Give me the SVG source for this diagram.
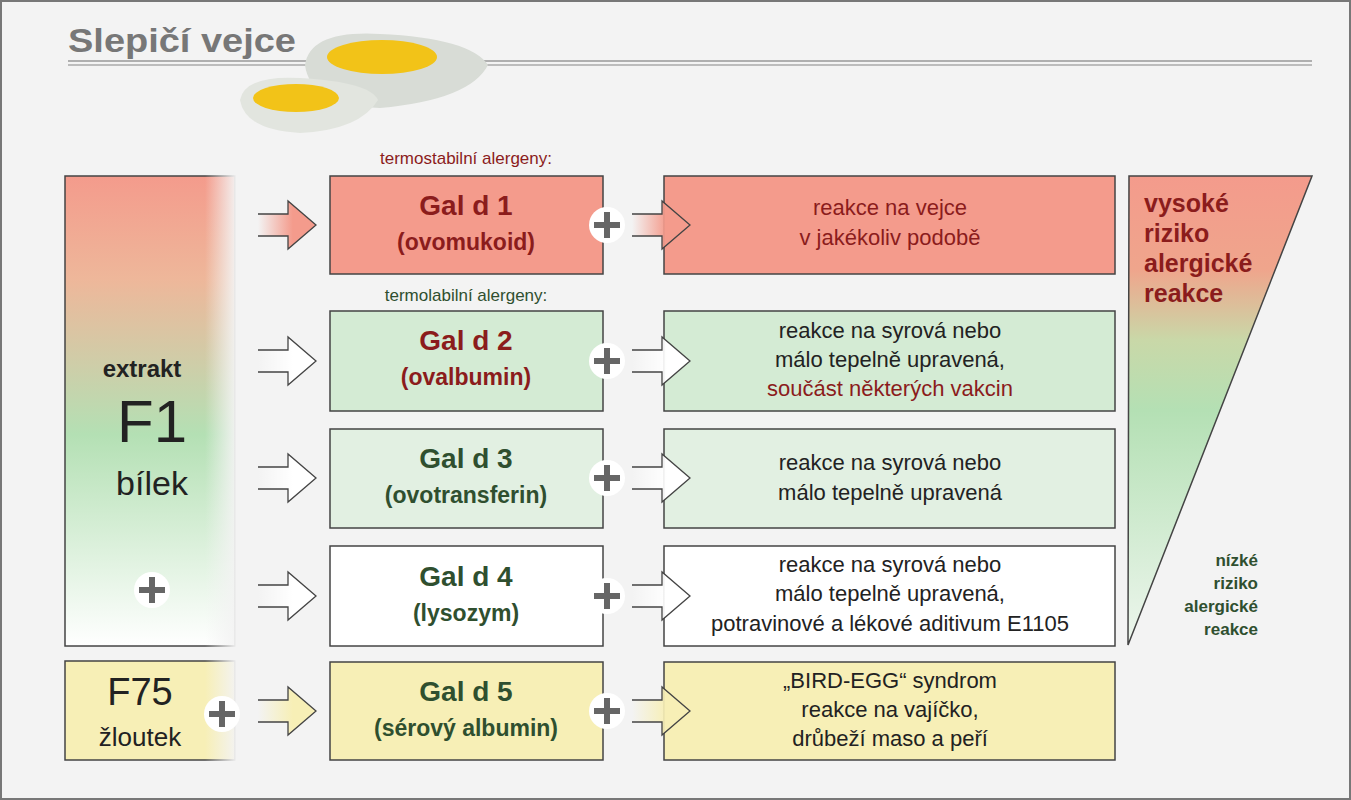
<svg xmlns="http://www.w3.org/2000/svg" width="1351" height="800" viewBox="0 0 1351 800">
<defs>
<linearGradient id="lg" x1="0" y1="0" x2="0" y2="1">
<stop offset="0" stop-color="#f49b8c"/><stop offset="0.22" stop-color="#eeb79a"/><stop offset="0.55" stop-color="#b4e0b4"/><stop offset="1" stop-color="#ffffff"/>
</linearGradient>
<linearGradient id="fadeR" x1="0" y1="0" x2="1" y2="0">
<stop offset="0" stop-color="#f3f3f3" stop-opacity="0"/><stop offset="1" stop-color="#f3f3f3"/>
</linearGradient>
<linearGradient id="tri" x1="0" y1="0" x2="0" y2="1">
<stop offset="0" stop-color="#f49b8c"/><stop offset="0.2" stop-color="#efa58c"/><stop offset="0.35" stop-color="#c9d8a8"/><stop offset="0.5" stop-color="#b4e0b4"/><stop offset="1" stop-color="#eef6ee"/>
</linearGradient>
<linearGradient id="ar" x1="0" y1="0" x2="1" y2="0">
<stop offset="0" stop-color="#f49b8c" stop-opacity="0"/><stop offset="0.6" stop-color="#f49b8c"/>
</linearGradient>
<linearGradient id="aw" x1="0" y1="0" x2="1" y2="0">
<stop offset="0" stop-color="#ffffff" stop-opacity="0"/><stop offset="0.6" stop-color="#ffffff"/>
</linearGradient>
<linearGradient id="ay" x1="0" y1="0" x2="1" y2="0">
<stop offset="0" stop-color="#f7efb6" stop-opacity="0"/><stop offset="0.6" stop-color="#f7efb6"/>
</linearGradient>
<path id="arrow" d="M0,-11 H30 V-24 L58,0 L30,24 V11 H0"/>
</defs>
<style>
.box{stroke:#444;stroke-width:1.5}
.t{font-family:"Liberation Sans",Arial,sans-serif;text-anchor:middle}
.f{font-family:"Liberation Sans",Arial,sans-serif}
.b{font-weight:bold}
.r{fill:#8b1c1c}.g{fill:#2f4f2f}.k{fill:#222}
.as{stroke:#444;stroke-width:1.3}
.plus{fill:#fff}
.pl{stroke:#666;stroke-width:6}
</style>
<rect width="1351" height="800" fill="#f3f3f3"/>
<rect x="1" y="1" width="1349" height="798" fill="none" stroke="#777" stroke-width="2"/>
<g id="title">
<text x="68" y="52" class="f b" font-size="34" fill="#777" textLength="228" lengthAdjust="spacingAndGlyphs">Slepičí vejce</text>
<line x1="68" y1="61" x2="1312" y2="61" stroke="#999" stroke-width="1.5"/>
<line x1="68" y1="65" x2="1312" y2="65" stroke="#aaa" stroke-width="1.5"/>
</g>
<g id="eggs">
<path d="M305,65 Q310,30 380,34 Q470,38 488,65 Q470,100 380,108 Q310,105 305,65Z" fill="#d8dcd6"/>
<ellipse cx="382" cy="57" rx="55" ry="17" fill="#f2c318"/>
<path d="M240,100 Q245,75 300,78 Q370,82 378,100 Q360,130 300,133 Q245,130 240,100Z" fill="#e2e5df"/>
<ellipse cx="296" cy="98" rx="43" ry="14" fill="#f2c318"/>
</g>
<g id="labels">
<text class="t" x="466" y="164" font-size="17" fill="#8b1c1c">termostabilní alergeny:</text>
<text class="t" x="466" y="301" font-size="17" fill="#2f4f2f">termolabilní alergeny:</text>
</g>
<g id="f1">
<rect x="65" y="176" width="170" height="470" fill="url(#lg)" class="box"/>
<rect x="205" y="174" width="32" height="474" fill="url(#fadeR)"/>
<text class="t b k" x="142" y="377" font-size="24">extrakt</text>
<text class="t k" x="152" y="442" font-size="60">F1</text>
<text class="t k" x="152" y="495" font-size="34">bílek</text>
</g>
<g id="f75">
<rect x="65" y="661" width="170" height="99" fill="#f7efb6" class="box"/>
<rect x="205" y="659" width="32" height="103" fill="url(#fadeR)"/>
<text class="t k" x="140" y="705" font-size="38">F75</text>
<text class="t k" x="140" y="746" font-size="26">žloutek</text>
</g>
<g id="gal1"><rect x="330" y="176" width="273" height="98" fill="#f49b8c" class="box"/>
<text class="t b r" x="466" y="215" font-size="28">Gal d 1</text><text class="t b r" x="466" y="250" font-size="23">(ovomukoid)</text></g>
<g id="gal2"><rect x="330" y="311" width="273" height="100" fill="#d4ebd4" class="box"/>
<text class="t b r" x="466" y="350" font-size="28">Gal d 2</text><text class="t b r" x="466" y="385" font-size="23">(ovalbumin)</text></g>
<g id="gal3"><rect x="330" y="429" width="273" height="99" fill="#e2f0e2" class="box"/>
<text class="t b g" x="466" y="468" font-size="28">Gal d 3</text><text class="t b g" x="466" y="503" font-size="23">(ovotransferin)</text></g>
<g id="gal4"><rect x="330" y="546" width="273" height="100" fill="#fff" class="box"/>
<text class="t b g" x="466" y="586" font-size="28">Gal d 4</text><text class="t b g" x="466" y="621" font-size="23">(lysozym)</text></g>
<g id="gal5"><rect x="330" y="662" width="273" height="98" fill="#f7efb6" class="box"/>
<text class="t b g" x="466" y="701" font-size="28">Gal d 5</text><text class="t b g" x="466" y="736" font-size="23">(sérový albumin)</text></g>
<g id="r1"><rect x="664" y="176" width="451" height="98" fill="#f49b8c" class="box"/>
<text class="t" x="890" y="215" font-size="22" fill="#8b1c1c">reakce na vejce</text><text class="t" x="890" y="245" font-size="22" fill="#8b1c1c">v jakékoliv podobě</text></g>
<g id="r2"><rect x="664" y="311" width="451" height="100" fill="#d4ebd4" class="box"/>
<text class="t k" x="890" y="338" font-size="22">reakce na syrová nebo</text><text class="t k" x="890" y="367" font-size="22">málo tepelně upravená,</text><text class="t r" x="890" y="396" font-size="22">součást některých vakcin</text></g>
<g id="r3"><rect x="664" y="429" width="451" height="99" fill="#e2f0e2" class="box"/>
<text class="t k" x="890" y="470" font-size="22">reakce na syrová nebo</text><text class="t k" x="890" y="500" font-size="22">málo tepelně upravená</text></g>
<g id="r4"><rect x="664" y="546" width="451" height="100" fill="#fff" class="box"/>
<text class="t k" x="890" y="572" font-size="22">reakce na syrová nebo</text><text class="t k" x="890" y="601" font-size="22">málo tepelně upravená,</text><text class="t k" x="890" y="631" font-size="22">potravinové a lékové aditivum E1105</text></g>
<g id="r5"><rect x="664" y="662" width="451" height="98" fill="#f7efb6" class="box"/>
<text class="t k" x="890" y="688" font-size="22">„BIRD-EGG“ syndrom</text><text class="t k" x="890" y="717" font-size="22">reakce na vajíčko,</text><text class="t k" x="890" y="746" font-size="22">drůbeží maso a peří</text></g>
<g id="connectors">
<use href="#arrow" x="258" y="225" fill="url(#ar)" class="as"/>
<use href="#arrow" x="258" y="361" fill="url(#aw)" class="as"/>
<use href="#arrow" x="258" y="478" fill="url(#aw)" class="as"/>
<use href="#arrow" x="258" y="596" fill="url(#aw)" class="as"/>
<use href="#arrow" x="258" y="711" fill="url(#ay)" class="as"/>
<use href="#arrow" x="632" y="225" fill="url(#ar)" class="as"/>
<use href="#arrow" x="632" y="361" fill="url(#aw)" class="as"/>
<use href="#arrow" x="632" y="478" fill="url(#aw)" class="as"/>
<use href="#arrow" x="632" y="596" fill="url(#aw)" class="as"/>
<use href="#arrow" x="632" y="711" fill="url(#ay)" class="as"/>
</g>
<g id="risk">
<polygon points="1129,176 1312,176 1128,645" fill="url(#tri)" stroke="#444" stroke-width="1.5"/>
<text class="f b r" font-size="25"><tspan x="1144" y="212">vysoké</tspan><tspan x="1144" dy="30">riziko</tspan><tspan x="1144" dy="30">alergické</tspan><tspan x="1144" dy="30">reakce</tspan></text>
<text class="f b g" font-size="17" text-anchor="end"><tspan x="1258" y="566">nízké</tspan><tspan x="1258" dy="23">riziko</tspan><tspan x="1258" dy="23">alergické</tspan><tspan x="1258" dy="23">reakce</tspan></text>
</g>
<g id="pluses">
<g transform="translate(607,225)"><circle r="18" class="plus"/><path d="M-13,0H13M0,-13V13" class="pl"/></g>
<g transform="translate(607,361)"><circle r="18" class="plus"/><path d="M-13,0H13M0,-13V13" class="pl"/></g>
<g transform="translate(607,478)"><circle r="18" class="plus"/><path d="M-13,0H13M0,-13V13" class="pl"/></g>
<g transform="translate(607,596)"><circle r="18" class="plus"/><path d="M-13,0H13M0,-13V13" class="pl"/></g>
<g transform="translate(607,711)"><circle r="18" class="plus"/><path d="M-13,0H13M0,-13V13" class="pl"/></g>
<g transform="translate(152,590)"><circle r="18" class="plus"/><path d="M-13,0H13M0,-13V13" class="pl"/></g>
<g transform="translate(222,714)"><circle r="18" class="plus"/><path d="M-13,0H13M0,-13V13" class="pl"/></g>
</g>
</svg>
